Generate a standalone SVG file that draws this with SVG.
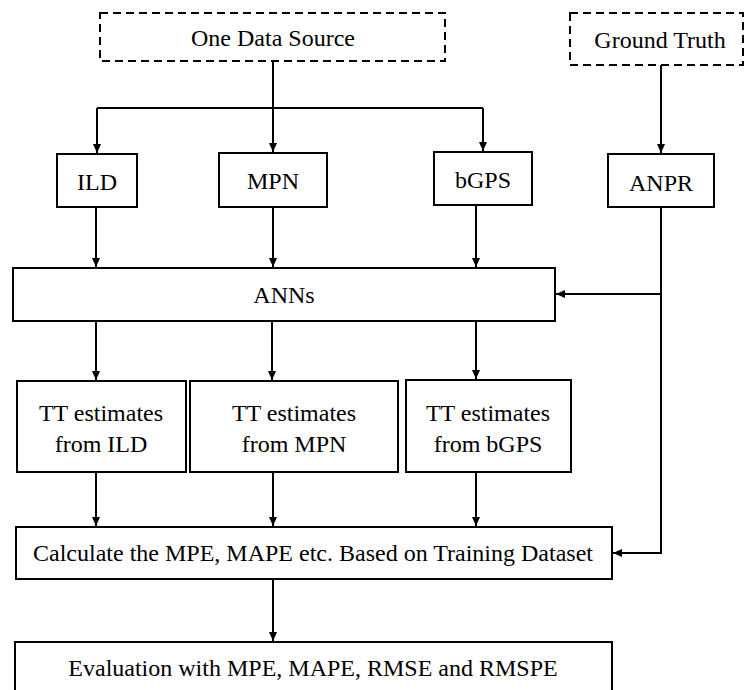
<svg xmlns="http://www.w3.org/2000/svg" width="744" height="690" viewBox="0 0 744 690">
<defs>
<marker id="arr" markerUnits="userSpaceOnUse" markerWidth="10" markerHeight="10" viewBox="0 0 10 10" refX="9" refY="5" orient="auto">
<path d="M0,1 L9,5 L0,9 Z" fill="#000"/>
</marker>
<style>
.box{fill:#fff;stroke:#000;stroke-width:2}
.dash{fill:#fff;stroke:#000;stroke-width:2;stroke-dasharray:8,5}
.t{font-size:24px;fill:#000;text-anchor:middle}
.c{fill:none;stroke:#000;stroke-width:2}
</style>
</defs>
<rect width="744" height="690" fill="#fff"/>
<g id="connectors">
<path class="c" d="M273,61 V108 M97,108 H483"/>
<path class="c" d="M97,108 V153" marker-end="url(#arr)"/>
<path class="c" d="M273,108 V152" marker-end="url(#arr)"/>
<path class="c" d="M483,108 V151" marker-end="url(#arr)"/>
<path class="c" d="M661,65 V153" marker-end="url(#arr)"/>
<path class="c" d="M96,207 V267" marker-end="url(#arr)"/>
<path class="c" d="M273,207 V267" marker-end="url(#arr)"/>
<path class="c" d="M476,205 V267" marker-end="url(#arr)"/>
<path class="c" d="M661,207 V553 H613" marker-end="url(#arr)"/>
<path class="c" d="M661,294 H556" marker-end="url(#arr)"/>
<path class="c" d="M96,321 V380" marker-end="url(#arr)"/>
<path class="c" d="M272,321 V380" marker-end="url(#arr)"/>
<path class="c" d="M476,321 V379" marker-end="url(#arr)"/>
<path class="c" d="M96,472 V526" marker-end="url(#arr)"/>
<path class="c" d="M273,472 V526" marker-end="url(#arr)"/>
<path class="c" d="M476,472 V526" marker-end="url(#arr)"/>
<path class="c" d="M273,579 V641" marker-end="url(#arr)"/>
</g>
<g id="nodes" font-family="'Liberation Serif', 'Times New Roman', Tinos, 'DejaVu Serif', serif">
<g id="one-data-source"><rect class="dash" x="100" y="13" width="345" height="48"/><text class="t" x="273" y="46">One Data Source</text></g>
<g id="ground-truth"><rect class="dash" x="570" y="13" width="173" height="52"/><text class="t" x="660" y="48">Ground Truth</text></g>
<g id="ild"><rect class="box" x="57" y="154" width="80" height="53"/><text class="t" x="97" y="190">ILD</text></g>
<g id="mpn"><rect class="box" x="219" y="153" width="108" height="54"/><text class="t" x="273" y="189">MPN</text></g>
<g id="bgps"><rect class="box" x="434" y="152" width="98" height="53"/><text class="t" x="483" y="188">bGPS</text></g>
<g id="anpr"><rect class="box" x="608" y="154" width="106" height="53"/><text class="t" x="661" y="191">ANPR</text></g>
<g id="anns"><rect class="box" x="13" y="268" width="542" height="53"/><text class="t" x="284" y="303">ANNs</text></g>
<g id="tt-ild"><rect class="box" x="17" y="381" width="169" height="91"/><text class="t" x="101" y="421">TT estimates</text><text class="t" x="101" y="452">from ILD</text></g>
<g id="tt-mpn"><rect class="box" x="190" y="381" width="208" height="91"/><text class="t" x="294" y="421">TT estimates</text><text class="t" x="294" y="452">from MPN</text></g>
<g id="tt-bgps"><rect class="box" x="406" y="380" width="165" height="92"/><text class="t" x="488" y="421">TT estimates</text><text class="t" x="488" y="452">from bGPS</text></g>
<g id="calculate"><rect class="box" x="16" y="527" width="596" height="52"/><text class="t" x="313" y="561">Calculate the MPE, MAPE etc. Based on Training Dataset</text></g>
<g id="evaluation"><rect class="box" x="15" y="642" width="597" height="60"/><text class="t" x="313" y="676">Evaluation with MPE, MAPE, RMSE and RMSPE</text></g>
</g>
</svg>
